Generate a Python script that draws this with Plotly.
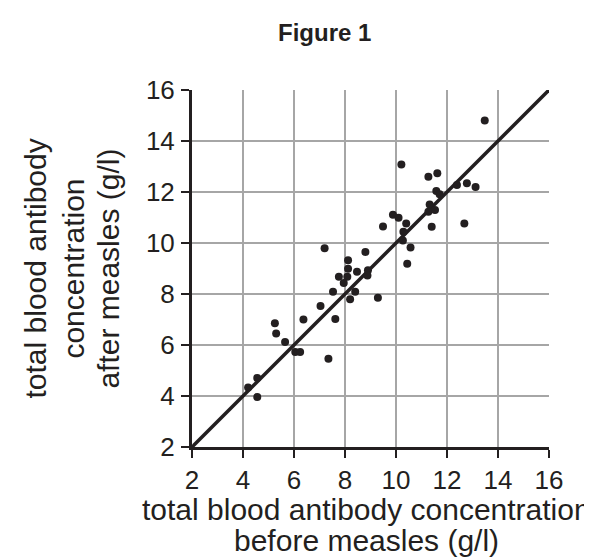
import plotly.graph_objects as go

# Data (g/l)
before = [13.48, 10.21, 11.27, 11.62, 12.39, 12.78, 13.12, 11.58, 11.71, 11.32,
          11.27, 11.53, 11.40, 12.68, 9.88, 10.10, 10.40, 10.29, 10.27, 10.57,
          9.49, 10.44, 8.80, 7.20, 8.12, 8.12, 8.47, 8.90, 8.88, 7.76,
          8.09, 7.95, 7.53, 8.40, 8.20, 9.29, 7.04, 7.62, 6.37, 5.25,
          5.30, 5.65, 6.05, 6.24, 7.35, 4.56, 4.20, 4.56]
after = [14.80, 13.08, 12.60, 12.74, 12.27, 12.34, 12.20, 12.04, 11.91, 11.51,
         11.23, 11.29, 10.64, 10.76, 11.11, 10.99, 10.76, 10.44, 10.10, 9.82,
         10.65, 9.19, 9.65, 9.79, 9.32, 8.99, 8.87, 8.93, 8.73, 8.68,
         8.68, 8.43, 8.09, 8.09, 7.79, 7.85, 7.53, 7.02, 7.00, 6.85,
         6.45, 6.12, 5.73, 5.73, 5.46, 4.71, 4.33, 3.96]

line_x = [2, 16]
line_y = [2, 16]

tick_vals = [2, 4, 6, 8, 10, 12, 14, 16]
tick_text = ["2", "4", "6", "8", "10", "12", "14", "16"]

FONT = "Liberation Sans"
TXT = "#231f20"

fig = go.Figure()
fig.add_trace(go.Scatter(x=line_x, y=line_y, mode="lines",
                         line=dict(color="#231f20", width=3.5), showlegend=False,
                         hoverinfo="skip"))
fig.add_trace(go.Scatter(x=before, y=after, mode="markers",
                         marker=dict(color="#231f20", size=8), showlegend=False))

axis_common = dict(
    range=[2, 16], tickvals=tick_vals, ticktext=tick_text,
    showgrid=True, gridcolor="#a6a6a6", gridwidth=1.5,
    showline=True, linecolor="#231f20", linewidth=3,
    ticks="outside", ticklen=8, tickwidth=2, tickcolor="#231f20",
    zeroline=False, tickfont=dict(family=FONT, size=26, color=TXT),
)
fig.update_xaxes(**axis_common, ticklabelstandoff=0)
fig.update_yaxes(**axis_common, ticklabelstandoff=1)

ann = []
ann.append(dict(text="<b>Figure 1</b>", x=0.37, y=1.1605, xref="paper", yref="paper",
                showarrow=False, xanchor="center", yanchor="middle",
                font=dict(family=FONT, size=24, color=TXT)))
for xp, t in [(-0.437, "total blood antibody"), (-0.333, "concentration"),
              (-0.235, "after measles (g/l)")]:
    ann.append(dict(text=t, x=xp, y=0.5, xref="paper", yref="paper", textangle=-90,
                    showarrow=False, xanchor="center", yanchor="middle",
                    font=dict(family=FONT, size=30, color=TXT)))
for yp, t in [(-0.176, "total blood antibody concentration"),
              (-0.262, "before measles (g/l)")]:
    ann.append(dict(text=t, x=0.488, y=yp, xref="paper", yref="paper",
                    showarrow=False, xanchor="center", yanchor="middle",
                    font=dict(family=FONT, size=30, color=TXT)))

fig.update_layout(
    width=592, height=559,
    margin=dict(l=184, r=51, t=82, b=120),
    plot_bgcolor="white", paper_bgcolor="white",
    annotations=ann,
)

fig.write_html("out.html")
